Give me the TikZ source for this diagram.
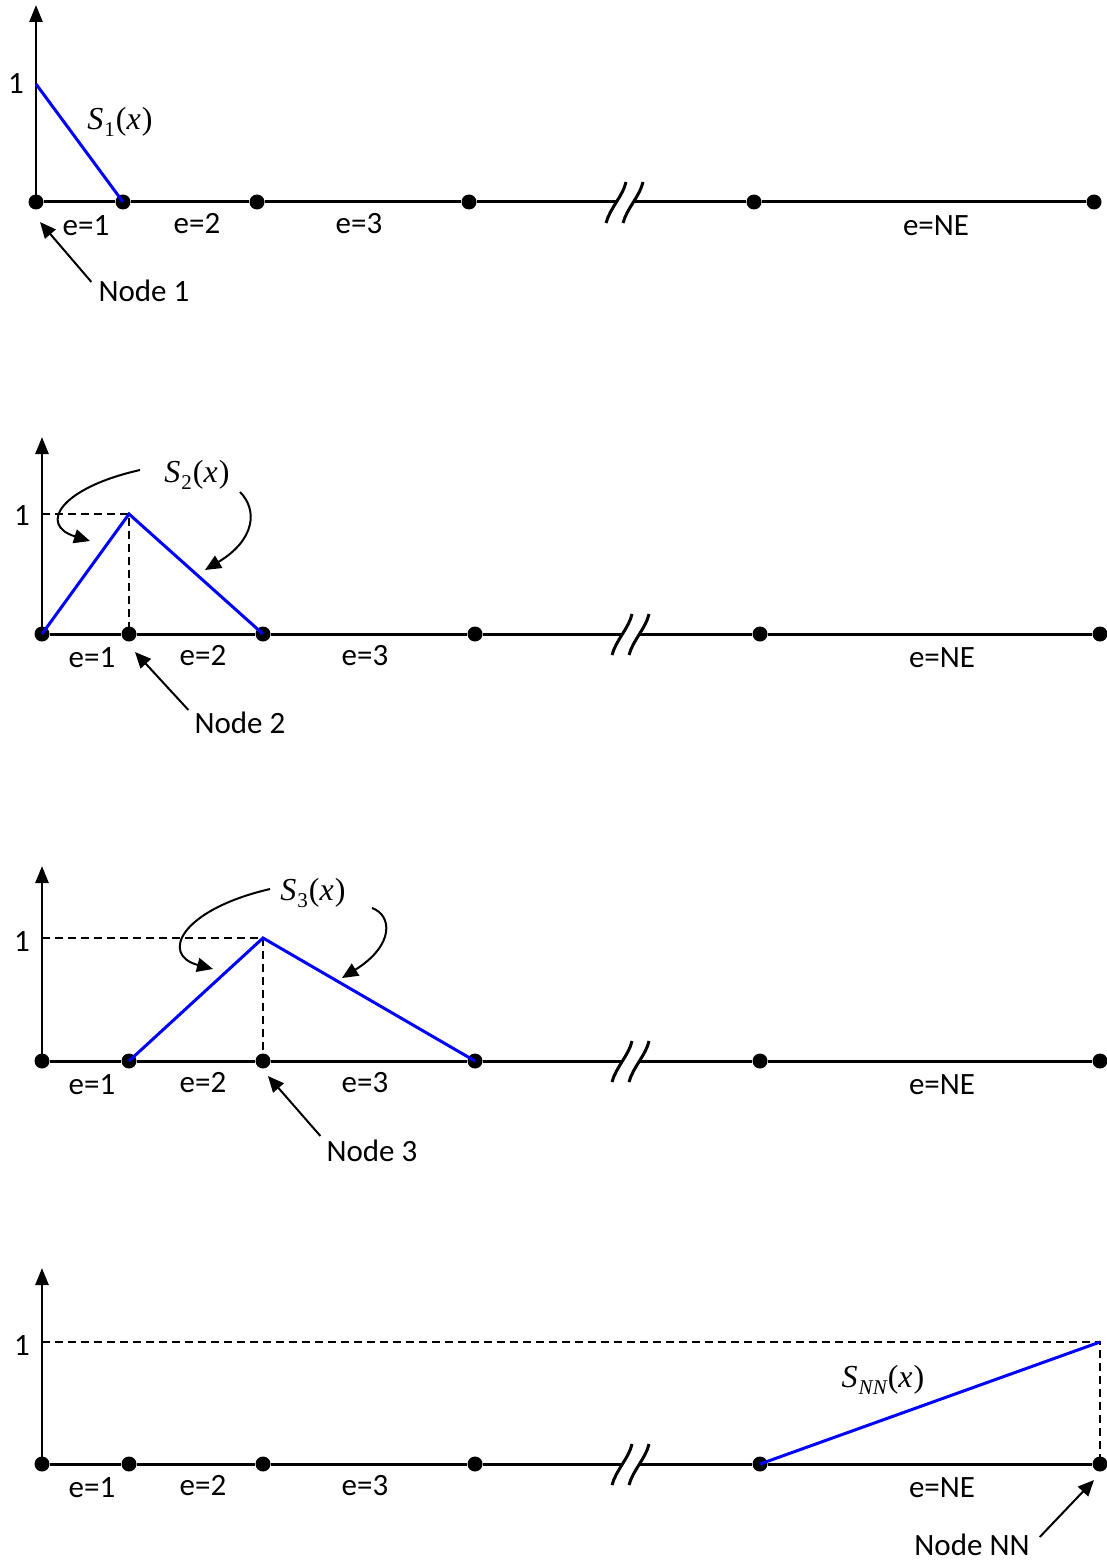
\documentclass[tikz,border=0pt]{standalone}
\usepackage{fontspec}
\setmainfont{Carlito}
\newfontfamily\mfont{Liberation Serif}
\usetikzlibrary{arrows.meta}
\newcommand\fnlabel[1]{{\mfont\fontsize{32}{34}\selectfont\itshape S\kern1pt\raisebox{-0.22em}{\fontsize{21}{22}\selectfont #1}\kern1pt\upshape(\itshape x\kern1pt\upshape)}}
\newcommand\elemrow[3]{% #1 prefix, #2 baseline y, #3 axis top y
  \node[dot] (#1a) at (42,#2) {};
  \node[dot] (#1b) at (129,#2) {};
  \node[dot] (#1c) at (263,#2) {};
  \node[dot] (#1d) at (475,#2) {};
  \node[dot] (#1e) at (760,#2) {};
  \node[dot] (#1f) at (1100,#2) {};
  \coordinate (#1top) at (42,#3);
  \coordinate (#1bl) at (623,#2);
  \coordinate (#1br) at (640,#2);
  \draw[axis] (#1a.center) -- (#1top);
  \draw[base] (#1a) -- (#1b) -- (#1c) -- (#1d) -- (#1bl);
  \draw[base] (#1br) -- (#1e) -- (#1f);
  \draw[brk] ([shift={(9,-20)}]#1bl) .. controls ([shift={(6,-6)}]#1bl) and ([shift={(-7,6)}]#1bl) .. ([shift={(-11,21)}]#1bl);
  \draw[brk] ([shift={(9,-20)}]#1br) .. controls ([shift={(6,-6)}]#1br) and ([shift={(-7,6)}]#1br) .. ([shift={(-11,21)}]#1br);
  \node[lbl] (#1e1) at (92,#2+24) {e=1};
  \node[lbl] (#1e2) at (203,#2+22) {e=2};
  \node[lbl] (#1e3) at (365,#2+22) {e=3};
  \node[lbl] (#1eNE) at (942,#2+24) {e=NE};
}
\begin{document}
\begin{tikzpicture}[x=1pt,y=-1pt,
  dot/.style={circle,fill=black,inner sep=0pt,minimum size=15pt},
  base/.style={line width=3pt},
  axis/.style={line width=2.6pt,-{Triangle[length=17pt,width=13pt]}},
  fshape/.style={blue,line width=3pt},
  guide/.style={line width=1.4pt,dash pattern=on 8pt off 5pt},
  lbl/.style={font=\fontsize{31}{33}\selectfont,inner sep=0pt},
  ptr/.style={line width=2pt,-{Triangle[length=16pt,width=14pt]}},
  brk/.style={line width=3pt}
]
\useasboundingbox (0,0) rectangle (1107,1562);

% ---------- panel 1 ----------
\begin{scope}[xshift=-6pt]
\elemrow{p1}{202}{5}
\coordinate (p1peak) at (42,84);
\draw[fshape] (p1peak) -- (p1b.center);
\node[lbl] (p1one) at (22,84) {1};
\node[lbl] (p1S) at (126,122) {\fnlabel{\upshape 1}};
\node[lbl] (p1nl) at (150,291) {Node 1};
\coordinate (p1tip) at (46,222);
\draw[ptr] ([shift={(-7,-9)}]p1nl.west) -- (p1tip);
\end{scope}

% ---------- panel 2 ----------
\elemrow{p2}{634}{437}
\coordinate (p2peak) at (129,514);
\coordinate (p2h) at (42,514);
\draw[guide] (p2h) -- (p2peak) -- (p2b.center);
\draw[fshape] (p2a.center) -- (p2peak) -- (p2c.center);
\node[lbl] (p2one) at (22,516) {1};
\node[lbl] (p2S) at (197,475) {\fnlabel{\upshape 2}};
\coordinate (p2ls) at (140,470);
\coordinate (p2lt) at (90,541);
\coordinate (p2rs) at (240,492);
\coordinate (p2rt) at (205,570);
\draw[ptr] (p2ls) .. controls (60,488) and (38,525) .. (p2lt);
\draw[ptr] (p2rs) .. controls (258,510) and (255,540) .. (p2rt);
\node[lbl] (p2nl) at (240,723) {Node 2};
\coordinate (p2tip) at (135,652);
\draw[ptr] ([shift={(-6,-13)}]p2nl.west) -- (p2tip);

% ---------- panel 3 ----------
\elemrow{p3}{1061}{866}
\coordinate (p3peak) at (263,938);
\coordinate (p3h) at (42,938);
\draw[guide] (p3h) -- (p3peak) -- (p3c.center);
\draw[fshape] (p3b.center) -- (p3peak) -- (p3d.center);
\node[lbl] (p3one) at (22,942) {1};
\node[lbl] (p3S) at (313,893) {\fnlabel{\upshape 3}};
\coordinate (p3ls) at (270,889);
\coordinate (p3lt) at (213,969);
\coordinate (p3rs) at (372,908);
\coordinate (p3rt) at (342,978);
\draw[ptr] (p3ls) .. controls (180,910) and (160,955) .. (p3lt);
\draw[ptr] (p3rs) .. controls (392,915) and (395,945) .. (p3rt);
\node[lbl] (p3nl) at (372,1151) {Node 3};
\coordinate (p3tip) at (268,1076);
\draw[ptr] ([shift={(-6,-15)}]p3nl.west) -- (p3tip);

% ---------- panel 4 ----------
\elemrow{p4}{1464}{1268}
\coordinate (p4peak) at (1100,1342);
\coordinate (p4h) at (42,1342);
\draw[guide] (p4h) -- (p4peak) -- (p4f.center);
\draw[fshape] (p4e.center) -- (p4peak);
\node[lbl] (p4one) at (22,1346) {1};
\node[lbl] (p4S) at (883,1380) {\fnlabel{NN}};
\node[lbl] (p4nl) at (972,1545) {Node NN};
\coordinate (p4tip) at (1094,1480);
\draw[ptr] ([shift={(10,-8)}]p4nl.east) -- (p4tip);
\end{tikzpicture}
\end{document}
